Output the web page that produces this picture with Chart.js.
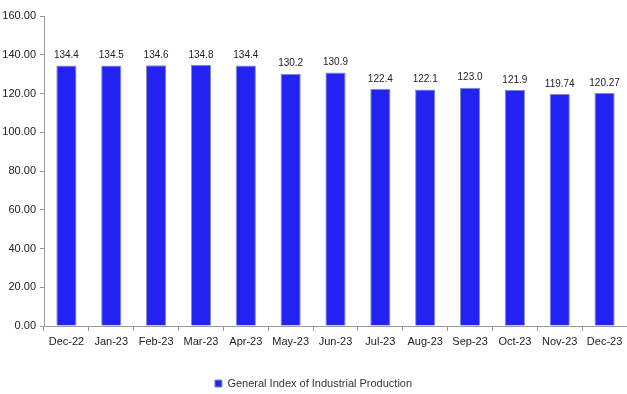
<!DOCTYPE html>
<html><head><meta charset="utf-8">
<script src="https://cdn.jsdelivr.net/npm/chart.js@4"></script>
<style>html,body{margin:0;padding:0;background:#fff}#w{width:627px;height:394px}</style>
</head><body><div id="w"><canvas id="c" width="627" height="394"></canvas></div>
<script>
const categories = ["Dec-22","Jan-23","Feb-23","Mar-23","Apr-23","May-23","Jun-23","Jul-23","Aug-23","Sep-23","Oct-23","Nov-23","Dec-23"];
const values = [134.4,134.5,134.6,134.8,134.4,130.2,130.9,122.4,122.1,123.0,121.9,119.74,120.27];
const valueLabels = ["134.4","134.5","134.6","134.8","134.4","130.2","130.9","122.4","122.1","123.0","121.9","119.74","120.27"];
const seriesName = "General Index of Industrial Production";
const FONT = "'Liberation Sans Narrow','Arial Narrow','Liberation Sans',Arial,sans-serif";

const labelPlugin = {
  id: 'valLabels',
  afterDatasetsDraw(chart) {
    const ctx = chart.ctx;
    const meta = chart.getDatasetMeta(0);
    ctx.save();
    ctx.font = "10px " + FONT;
    ctx.fillStyle = "#222";
    ctx.textAlign = "center";
    ctx.textBaseline = "bottom";
    meta.data.forEach((bar, i) => {
      ctx.fillText(valueLabels[i], bar.x, bar.y - 5);
    });
    ctx.restore();
  }
};

new Chart(document.getElementById('c'), {
  type: 'bar',
  data: {
    labels: categories,
    datasets: [{
      label: seriesName,
      data: values,
      backgroundColor: '#2222F2',
      borderColor: '#7F8CC8',
      borderWidth: 1,
      barPercentage: 0.45,
      categoryPercentage: 1.0
    }]
  },
  options: {
    responsive: false,
    animation: false,
    layout: { padding: { top: 16, right: 0, left: 0, bottom: -5 } },
    plugins: {
      legend: {
        position: 'bottom',
        labels: {
          boxWidth: 7, boxHeight: 7, padding: 2,
          color: '#333',
          font: { family: FONT, size: 11 }
        }
      },
      tooltip: { enabled: false }
    },
    scales: {
      x: {
        afterFit(s) { s.height = 50; },
        grid: { drawOnChartArea: false, drawTicks: true, tickLength: 5, color: '#999', offset: true },
        border: { color: '#999' },
        ticks: { color: '#222', font: { family: FONT, size: 11 }, padding: 4, maxRotation: 0, autoSkip: false }
      },
      y: {
        min: 0, max: 160,
        afterFit(s) { s.width = 44; },
        grid: { drawOnChartArea: false, drawTicks: true, tickLength: 4, color: '#999' },
        border: { color: '#999' },
        ticks: { stepSize: 20, color: '#222', font: { family: FONT, size: 11 }, padding: 4,
          callback: v => v.toFixed(2) }
      }
    }
  },
  plugins: [labelPlugin]
});
</script>
</body></html>
